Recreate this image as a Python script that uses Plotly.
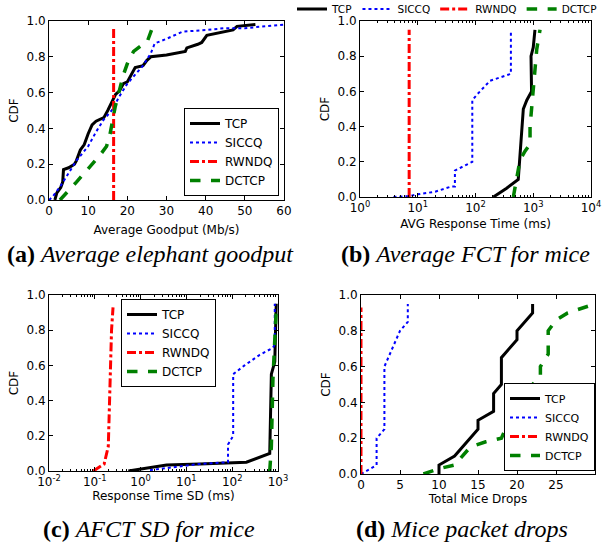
import plotly.graph_objects as go

# ---------------- data ----------------
series_names = ["TCP", "SICCQ", "RWNDQ", "DCTCP"]

# (a) Average elephant goodput (Mb/s) vs CDF
a_tcp_x = [1.5, 2, 3, 3.5, 3.7, 5, 6.5, 7, 8, 9, 10, 11, 12, 14, 15, 16, 17, 18, 19, 20, 21, 22, 24, 25, 26, 30, 34.8, 35.2, 38, 39, 40.3, 45, 47, 48, 52.7]
a_tcp_y = [0.0, 0.04, 0.07, 0.1, 0.17, 0.18, 0.2, 0.22, 0.28, 0.31, 0.37, 0.42, 0.44, 0.46, 0.5, 0.55, 0.59, 0.61, 0.65, 0.66, 0.7, 0.74, 0.75, 0.78, 0.8, 0.81, 0.83, 0.85, 0.87, 0.88, 0.92, 0.94, 0.95, 0.97, 0.98]
a_siccq_x = [0, 1, 3, 5, 7, 10, 12, 14, 16, 18, 20, 22, 24, 26, 27, 30, 34, 40, 45, 50, 55, 60]
a_siccq_y = [0.0, 0.02, 0.08, 0.15, 0.22, 0.3, 0.38, 0.45, 0.5, 0.58, 0.65, 0.7, 0.75, 0.82, 0.875, 0.9, 0.94, 0.95, 0.96, 0.96, 0.97, 0.98]
a_rwndq_x = [16.5, 16.5]
a_rwndq_y = [0.0, 0.97]
a_dctcp_x = [2.8, 5, 7, 9, 11, 13, 14.7, 15.6, 16.9, 18, 19, 20.3, 21.6, 24, 25, 26.7]
a_dctcp_y = [0.0, 0.05, 0.1, 0.15, 0.2, 0.25, 0.3, 0.37, 0.52, 0.62, 0.7, 0.78, 0.83, 0.87, 0.88, 0.98]

# (b) AVG response time (ms), log scale
b_tcp_x = [204, 346, 550, 630, 673, 773, 935, 915, 1000, 1070]
b_tcp_y = [0.0, 0.05, 0.1, 0.4, 0.5, 0.55, 0.6, 0.8, 0.85, 0.95]
b_siccq_x = [3.8, 7, 10, 20, 38.6, 44, 44, 86, 88, 88, 105, 178, 398, 410, 410]
b_siccq_y = [0.0, 0.005, 0.015, 0.03, 0.06, 0.06, 0.15, 0.2, 0.2, 0.55, 0.58, 0.66, 0.7, 0.7, 0.95]
b_rwndq_x = [7.1, 7.1]
b_rwndq_y = [0.0, 0.95]
b_dctcp_x = [452, 590, 720, 880, 880, 1000, 1070, 1150, 1310]
b_dctcp_y = [0.0, 0.21, 0.26, 0.3, 0.4, 0.59, 0.74, 0.84, 0.95]

# (c) Response time SD (ms), log scale
c_tcp_x = [0.54, 3.7, 19.5, 204, 660, 716, 850, 915, 915]
c_tcp_y = [0.0, 0.034, 0.04, 0.05, 0.1, 0.55, 0.62, 0.93, 0.95]
c_siccq_x = [1.6, 19.5, 81, 81, 105, 105, 186, 400, 775, 850, 850]
c_siccq_y = [0.005, 0.04, 0.05, 0.15, 0.2, 0.55, 0.6, 0.66, 0.7, 0.72, 0.95]
c_rwndq_x = [0.093, 0.16, 0.197, 0.214, 0.232, 0.25]
c_rwndq_y = [0.0, 0.04, 0.14, 0.52, 0.8, 0.93]
c_dctcp_x = [660, 716, 775, 850, 915]
c_dctcp_y = [0.0, 0.14, 0.52, 0.7, 0.92]

# (d) Total mice drops
d_tcp_x = [10, 10, 12, 15, 15, 17, 17, 18, 18, 20, 20, 22, 22]
d_tcp_y = [0.0, 0.05, 0.1, 0.25, 0.3, 0.35, 0.45, 0.5, 0.65, 0.75, 0.8, 0.9, 0.95]
d_siccq_x = [0, 2, 2, 3, 3, 4, 5, 6, 6]
d_siccq_y = [0.0, 0.05, 0.2, 0.25, 0.6, 0.7, 0.8, 0.85, 0.95]
d_rwndq_x = [0, 0]
d_rwndq_y = [0.0, 0.93]
d_dctcp_x = [8, 10, 12, 14, 16, 18, 19, 19, 21, 22, 22, 23, 23, 24, 24, 25, 26.5, 28, 30]
d_dctcp_y = [0.0, 0.03, 0.05, 0.15, 0.18, 0.2, 0.3, 0.32, 0.37, 0.44, 0.5, 0.55, 0.6, 0.67, 0.8, 0.86, 0.9, 0.92, 0.95]

a_xticks = [0, 10, 20, 30, 40, 50, 60]
d_xticks = [0, 5, 10, 15, 20, 25, 30]
y_ticks = [0.0, 0.2, 0.4, 0.6, 0.8, 1.0]
b_xticks = [1, 10, 100, 1000, 10000]
b_xticktext = ["10<sup>0</sup>", "10<sup>1</sup>", "10<sup>2</sup>", "10<sup>3</sup>", "10<sup>4</sup>"]
c_xticks = [0.01, 0.1, 1, 10, 100, 1000]
c_xticktext = ["10<sup>-2</sup>", "10<sup>-1</sup>", "10<sup>0</sup>", "10<sup>1</sup>", "10<sup>2</sup>", "10<sup>3</sup>"]

captions = ["<b>(a)</b> <i>Average elephant goodput</i>",
            "<b>(b)</b> <i>Average FCT for mice</i>",
            "<b>(c)</b> <i>AFCT SD for mice</i>",
            "<b>(d)</b> <i>Mice packet drops</i>"]

# ---------------- styling ----------------
W, H = 602, 542
styles = {
    "TCP": dict(color="black", width=3, dash="solid"),
    "SICCQ": dict(color="#0000ff", width=2, dash="dot"),
    "RWNDQ": dict(color="#ff0000", width=3, dash="dashdot"),
    "DCTCP": dict(color="#008000", width=3.5, dash="dash"),
}

def px_x(p):
    return p / W

def px_y(p):
    return 1 - p / H

panels = [
    dict(key="", data=[(a_tcp_x, a_tcp_y), (a_siccq_x, a_siccq_y), (a_rwndq_x, a_rwndq_y), (a_dctcp_x, a_dctcp_y)],
         dom=(49, 284, 21, 200), standoff=8),
    dict(key="2", data=[(b_tcp_x, b_tcp_y), (b_siccq_x, b_siccq_y), (b_rwndq_x, b_rwndq_y), (b_dctcp_x, b_dctcp_y)],
         dom=(360, 591, 21, 197), standoff=5),
    dict(key="3", data=[(c_tcp_x, c_tcp_y), (c_siccq_x, c_siccq_y), (c_rwndq_x, c_rwndq_y), (c_dctcp_x, c_dctcp_y)],
         dom=(49, 278, 295, 471), standoff=3),
    dict(key="4", data=[(d_tcp_x, d_tcp_y), (d_siccq_x, d_siccq_y), (d_rwndq_x, d_rwndq_y), (d_dctcp_x, d_dctcp_y)],
         dom=(361, 595, 295, 474), standoff=3),
]

fig = go.Figure()
for i, p in enumerate(panels):
    k = p["key"]
    legname = "legend" + k
    for name, (xs, ys) in zip(series_names, p["data"]):
        fig.add_trace(go.Scatter(
            x=xs, y=ys, mode="lines", name=name,
            line=styles[name], xaxis="x" + k, yaxis="y" + k,
            legend=legname, showlegend=True,
        ))

tickfont = dict(family="DejaVu Sans", size=12, color="black")
common_ax = dict(showline=True, linecolor="black", linewidth=1, mirror="ticks",
                 ticks="inside", ticklen=4, tickcolor="black", tickwidth=1,
                 showgrid=False, zeroline=False, tickfont=tickfont, automargin=False)

def minor_log(lo, hi):
    vals = []
    for e in range(lo, hi):
        for m in range(2, 10):
            vals.append(m * 10 ** e)
    return vals

layout = dict(width=W, height=H, margin=dict(l=0, r=0, t=0, b=0, autoexpand=False),
              paper_bgcolor="white", plot_bgcolor="white", showlegend=True,
              template="none")

titles_x = ["Average Goodput (Mb/s)", "AVG Response Time (ms)", "Response Time SD (ms)", "Total Mice Drops"]
for i, p in enumerate(panels):
    k = p["key"]
    l, r, t, b = p["dom"]
    xa = dict(common_ax, domain=[px_x(l), px_x(r)], anchor="y" + k,
              title=dict(text=titles_x[i], font=dict(family="DejaVu Sans", size=12, color="black"),
                         standoff=p["standoff"]))
    ya = dict(common_ax, domain=[px_y(b), px_y(t)], anchor="x" + k, range=[0, 1.0],
              tickvals=y_ticks, ticktext=["%.1f" % v for v in y_ticks],
              title=dict(text="CDF", font=dict(family="DejaVu Sans", size=12, color="black"), standoff=5))
    if i == 0:
        xa.update(range=[0, 60], tickvals=a_xticks, ticktext=[str(v) for v in a_xticks])
    elif i == 1:
        xa.update(type="log", range=[0, 4], tickvals=b_xticks, ticktext=b_xticktext,
                  minor=dict(tickvals=minor_log(0, 4), ticks="inside", ticklen=2, tickcolor="black"))
    elif i == 2:
        xa.update(type="log", range=[-2, 3], tickvals=c_xticks, ticktext=c_xticktext,
                  minor=dict(tickvals=minor_log(-2, 3), ticks="inside", ticklen=2, tickcolor="black"))
    else:
        xa.update(range=[0, 30], tickvals=d_xticks, ticktext=[str(v) for v in d_xticks])
    layout["xaxis" + k] = xa
    layout["yaxis" + k] = ya

box_leg = dict(bgcolor="white", bordercolor="black", borderwidth=1,
               font=dict(family="DejaVu Sans", size=12, color="black"),
               orientation="v", tracegroupgap=0)
layout["legend"] = dict(box_leg, x=px_x(279), y=px_y(196), xanchor="right", yanchor="bottom")
layout["legend2"] = dict(bgcolor="rgba(0,0,0,0)", borderwidth=0,
                         font=dict(family="DejaVu Sans", size=10.5, color="black"),
                         orientation="h", x=1.0, y=px_y(9), xanchor="right", yanchor="middle")
layout["legend3"] = dict(box_leg, x=px_x(121), y=px_y(299), xanchor="left", yanchor="top")
layout["legend4"] = dict(box_leg, x=px_x(595), y=px_y(471), xanchor="right", yanchor="bottom",
                         font=dict(family="DejaVu Sans", size=11, color="black"))

fig.update_layout(**layout)

cap_pos = [(150, 254), (465, 254), (149, 529), (462, 529)]
for txt, (cx, cy) in zip(captions, cap_pos):
    fig.add_annotation(text=txt, x=px_x(cx), y=px_y(cy), xref="paper", yref="paper",
                       xanchor="center", yanchor="middle", showarrow=False,
                       font=dict(family="Liberation Serif", size=24, color="black"))

fig.write_html("out.html", config={"displayModeBar": False},
               post_script="document.body.style.margin='0';document.body.style.overflow='hidden';")
